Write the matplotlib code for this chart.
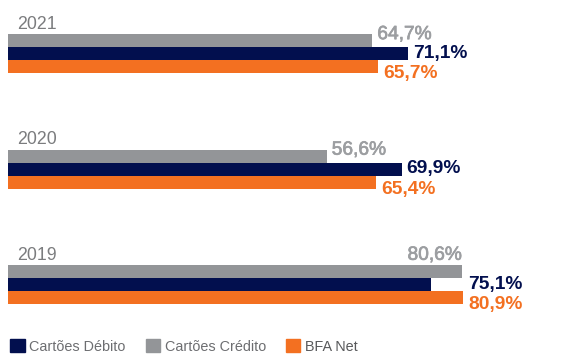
import matplotlib
matplotlib.use("Agg")
import matplotlib.pyplot as plt
from matplotlib.patches import Patch
import matplotlib.patheffects as pe

years = ["2021", "2020", "2019"]
credito = [64.7, 56.6, 80.6]
debito = [71.1, 69.9, 75.1]
bfa_net = [65.7, 65.4, 80.9]
series_names = ["Cartões Débito", "Cartões Crédito", "BFA Net"]

NAVY = "#020F4E"
GREY = "#939598"
GREY_TXT = "#9C9EA1"
YEAR_TXT = "#7B7C7E"
ORANGE = "#F37021"

FAM = ["Liberation Sans", "DejaVu Sans"]

def fmt(v):
    return f"{v:.1f}".replace(".", ",") + "%"

W, H = 574, 354
fig = plt.figure(figsize=(W / 100, H / 100), dpi=100)
ax = fig.add_axes([0, 0, 1, 1])
px_per_unit = 5.63
x0_px = 8
ax.set_xlim(-x0_px / px_per_unit, (W - x0_px) / px_per_unit)
group_gap = 115.5
first_center = 53.5
ax.set_ylim((H - first_center) / group_gap, -first_center / group_gap)
ax.axis("off")

LBL = 13.8
thicken = [pe.withStroke(linewidth=0.5, foreground=GREY_TXT)]
bh = 13 / group_gap
for g, year in enumerate(years):
    c, d, b = credito[g], debito[g], bfa_net[g]
    ax.barh(g - bh, c, height=bh, color=GREY, align="center", linewidth=0)
    ax.barh(g, d, height=bh, color=NAVY, align="center", linewidth=0)
    ax.barh(g + bh, b, height=bh, color=ORANGE, align="center", linewidth=0)

    ax.text(1.6, g - 1.5 * bh - 0.045, year, fontsize=12.8, color=YEAR_TXT,
            family=FAM, ha="left", va="baseline")

    off = 0.9
    gmax = max(c, d, b)
    if c > 78:
        ax.text(c, g - 1.5 * bh - 0.045, fmt(c), fontsize=LBL, color=GREY_TXT,
                family=FAM, ha="right", va="baseline", path_effects=thicken)
    else:
        ax.text(c + off, g - 1.45 * bh, fmt(c), fontsize=LBL, color=GREY_TXT,
                family=FAM, ha="left", va="center", path_effects=thicken)
    ax.text(gmax + off, g, fmt(d), fontsize=LBL, color=NAVY, fontweight="bold",
            family=FAM, ha="left", va="center")
    ax.text(b + off, g + 1.55 * bh, fmt(b), fontsize=LBL, color=ORANGE, fontweight="bold",
            family=FAM, ha="left", va="center")

handles = [Patch(color=NAVY), Patch(color=GREY), Patch(color=ORANGE)]
leg = ax.legend(handles, series_names, loc="lower left", bbox_to_anchor=(0.008, -0.016),
                ncol=3, frameon=False, handlelength=1.0, handleheight=1.0,
                handletextpad=0.3, columnspacing=1.4, borderaxespad=0,
                prop={"family": FAM, "size": 10.4})
for t in leg.get_texts():
    t.set_color("#6D6E71")
leg.get_texts()[2].set_color("#58595B")

fig.savefig("out.png", dpi=100)
